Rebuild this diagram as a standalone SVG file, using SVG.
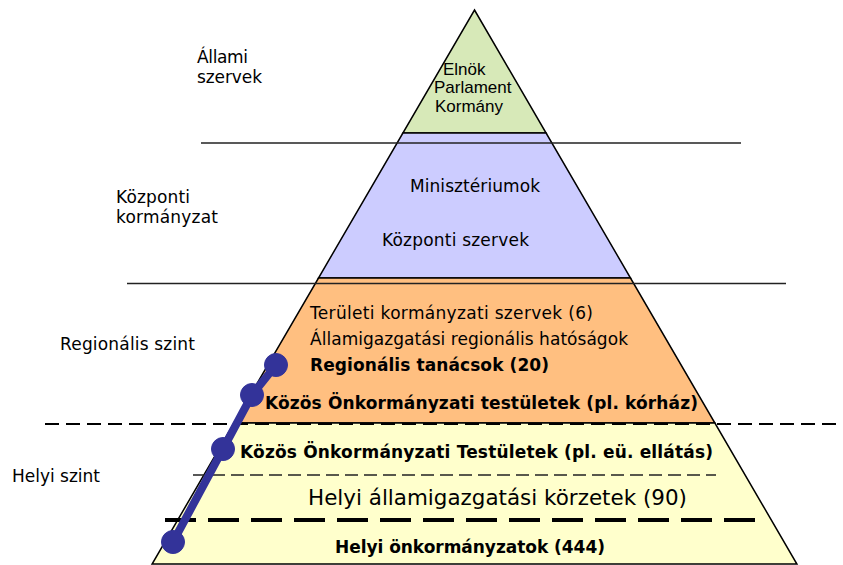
<svg xmlns="http://www.w3.org/2000/svg" width="843" height="565" viewBox="0 0 843 565">
<style>
.layer{stroke:#000;stroke-width:1.5;stroke-linejoin:miter}
.t{font-family:"DejaVu Sans",Verdana,sans-serif;font-size:17px;fill:#000}
.b{font-weight:bold}
.a{font-family:"Liberation Sans",Arial,sans-serif;font-size:17px;fill:#000}
.sep{stroke:#222;stroke-width:1.5;fill:none}
</style>
<rect width="843" height="565" fill="#fff"/>
<g id="layer-allami">
<polygon class="layer" fill="#D7E9B8" points="474.5,10 546.1,133 402.9,133"/>
<text class="a" x="443" y="75">Elnök</text>
<text class="a" x="434" y="93">Parlament</text>
<text class="a" x="435" y="112">Kormány</text>
</g>
<g id="layer-kozponti">
<polygon class="layer" fill="#CCCCFF" points="402.9,133 546.1,133 630.5,278 318.5,278"/>
<text class="t" x="410" y="192" textLength="130">Minisztériumok</text>
<text class="t" x="382" y="246" textLength="147">Központi szervek</text>
</g>
<g id="layer-regionalis">
<polygon class="layer" fill="#FFBF80" points="318.5,278 630.5,278 714.9,423 234.1,423"/>
<text class="t" x="310" y="319" textLength="283">Területi kormányzati szervek (6)</text>
<text class="t" x="310" y="345" textLength="318">Államigazgatási regionális hatóságok</text>
<text class="t b" x="310" y="371" textLength="239">Regionális tanácsok (20)</text>
<text class="t b" x="265" y="409" textLength="433">Közös Önkormányzati testületek (pl. kórház)</text>
</g>
<g id="layer-helyi">
<polygon class="layer" fill="#FFFFCC" points="234.1,423 714.9,423 796.9,564 152.1,564"/>
<text class="t b" x="240" y="458" textLength="473">Közös Önkormányzati Testületek (pl. eü. ellátás)</text>
<text class="t" x="308" y="505" style="font-size:21.5px" textLength="379" lengthAdjust="spacingAndGlyphs">Helyi államigazgatási körzetek (90)</text>
<text class="t b" x="335" y="553" textLength="270">Helyi önkormányzatok (444)</text>
</g>
<g id="labels">
<text class="t" x="197" y="63" textLength="51">Állami</text>
<text class="t" x="197" y="83" textLength="65">szervek</text>
<text class="t" x="116" y="203" textLength="74">Központi</text>
<text class="t" x="116" y="223" textLength="102">kormányzat</text>
<text class="t" x="60" y="350" textLength="135">Regionális szint</text>
<text class="t" x="12" y="482" textLength="88">Helyi szint</text>
</g>
<g id="connectors">
<line class="sep" x1="201" y1="143" x2="741" y2="143"/>
<line class="sep" x1="127" y1="283.5" x2="786" y2="283.5"/>
<line stroke="#000" stroke-width="2" stroke-dasharray="14,7" x1="45" y1="424" x2="843" y2="424"/>
<line stroke="#222" stroke-width="1.5" stroke-dasharray="13,6" x1="193" y1="475" x2="716" y2="475"/>
<line stroke="#000" stroke-width="4" stroke-dasharray="31,12" x1="165" y1="520" x2="755" y2="520"/>
</g>
<g id="chain" fill="#333399" stroke="#333399">
<polyline fill="none" stroke-width="8" stroke-linejoin="round" points="276,365 252,395 223,449 173,542"/>
<circle cx="276" cy="365" r="11.5"/>
<circle cx="252" cy="395" r="11.5"/>
<circle cx="223" cy="449" r="11.5"/>
<circle cx="173" cy="542" r="11.5"/>
</g>
</svg>
